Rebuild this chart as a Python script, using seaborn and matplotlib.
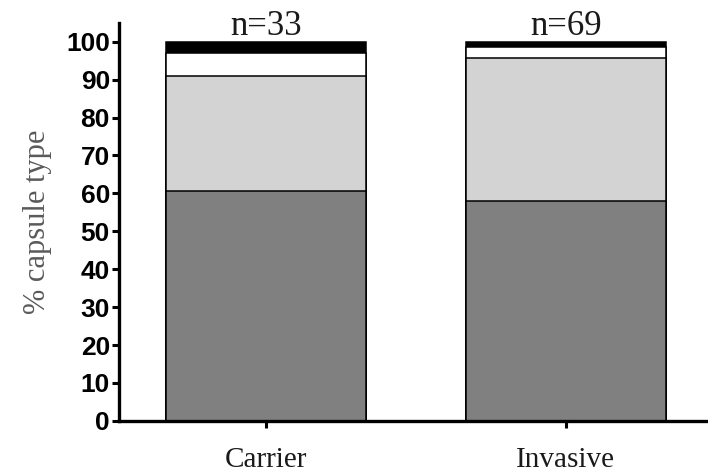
import matplotlib
matplotlib.use("Agg")
import matplotlib.pyplot as plt
import seaborn as sns
import numpy as np
import pandas as pd

# Isolate counts per capsule type, bottom to top of each stacked bar
groups = ["Carrier", "Invasive"]
type_a = [20, 40]   # dark grey
type_b = [10, 26]   # light grey
type_c = [2, 2]     # white
type_d = [1, 1]     # black
layer_colors = ["#808080", "#d3d3d3", "#ffffff", "#000000"]

y_ticks = list(range(0, 101, 10))

counts = np.array([type_a, type_b, type_c, type_d], dtype=float)
totals = counts.sum(axis=0)
percent = counts / totals * 100
cumulative = np.cumsum(percent, axis=0)

sns.set_style("ticks")
fig = plt.figure(figsize=(7.08, 4.74), dpi=100)
ax = fig.add_axes([0.168, 0.112, 0.832, 0.84])

# Draw cumulative heights from the tallest layer down so each segment overlays the next
for i in range(len(layer_colors) - 1, -1, -1):
    df = pd.DataFrame({"group": groups, "pct": cumulative[i]})
    sns.barplot(data=df, x="group", y="pct", ax=ax, color=layer_colors[i],
                saturation=1, width=0.667, edgecolor="black", linewidth=1.1,
                errorbar=None)

ax.set_ylim(0, 105)
ax.set_xlim(-0.49, 1.475)
ax.set_yticks(y_ticks)
ax.set_yticklabels([str(t) for t in y_ticks], fontfamily="Liberation Sans",
                   fontweight="bold", fontsize=19, color="black")
ax.set_xticks(range(len(groups)))
ax.set_xticklabels(groups, fontfamily="Liberation Serif", fontsize=21,
                   color="#1a1a1a")
ax.tick_params(axis="y", length=5, width=2.2, pad=1.5, color="black")
ax.tick_params(axis="x", length=5, width=2.2, pad=14, color="black")

ax.set_xlabel("")
ax.set_ylabel("% capsule type", fontfamily="Liberation Serif", fontsize=22,
              color="#5a5a5a", labelpad=10)

for side in ["top", "right"]:
    ax.spines[side].set_visible(False)
for side in ["left", "bottom"]:
    ax.spines[side].set_linewidth(2.4)
    ax.spines[side].set_color("black")

for x, n in enumerate(totals):
    ax.annotate(f"n={int(n)}", xy=(x, cumulative[-1][x]), xytext=(0, -1),
                textcoords="offset points", ha="center", va="bottom",
                fontfamily="Liberation Serif", fontsize=25, color="#1a1a1a")

fig.savefig("out.png", dpi=100)
